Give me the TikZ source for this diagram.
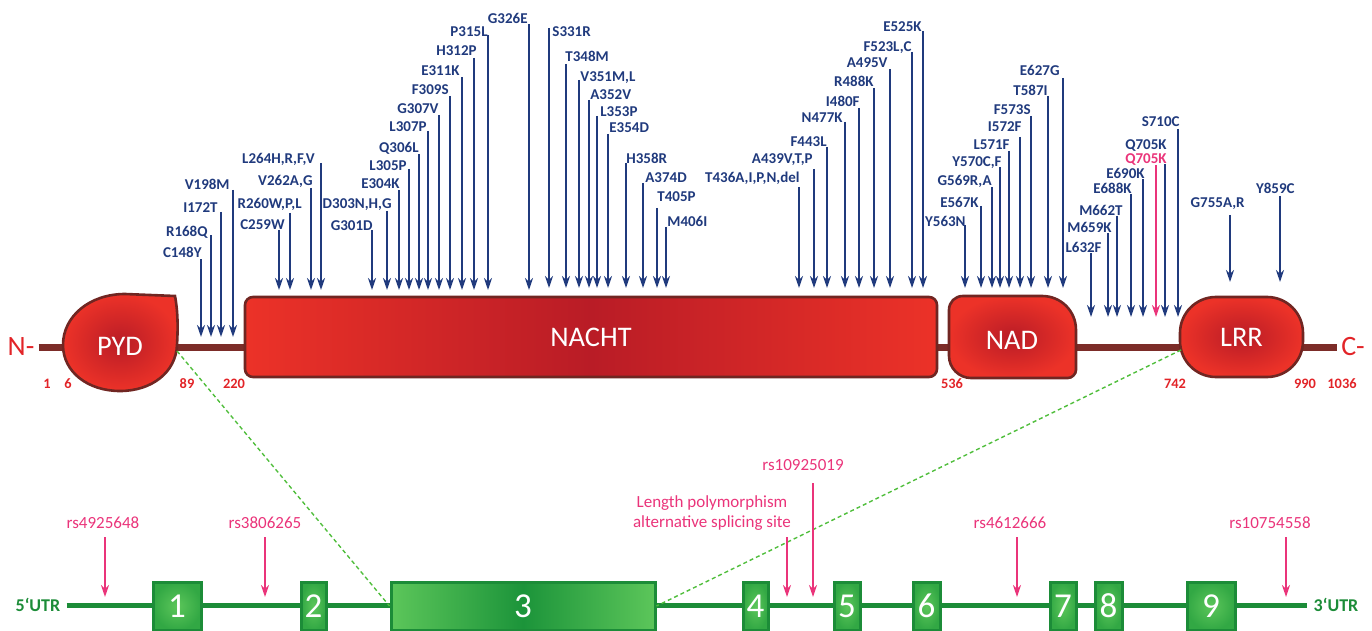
\documentclass[tikz,border=0pt]{standalone}
\usepackage{fontspec}
\setmainfont{Carlito}
\usetikzlibrary{arrows.meta}

\definecolor{mutblue}{RGB}{32,58,125}
\definecolor{snppink}{RGB}{234,52,122}
\definecolor{posred}{RGB}{226,36,40}
\definecolor{domred}{RGB}{236,50,40}
\definecolor{domdark}{RGB}{185,28,38}
\definecolor{domedge}{RGB}{112,38,34}
\definecolor{linkbrown}{RGB}{124,44,40}
\definecolor{genegreen}{RGB}{28,140,56}
\definecolor{exonlight}{RGB}{92,198,90}
\definecolor{exonmid}{RGB}{50,168,68}
\definecolor{exondark}{RGB}{28,148,58}
\definecolor{cutgreen}{RGB}{80,190,60}

\tikzset{
  domshape/.style={draw=domedge, line width=1.3pt, inner color=domdark, outer color=domred},
  domlab/.style={text=white, font=\fontsize{14.2}{16}\selectfont},
  endlab/.style={text=posred, font=\fontsize{14}{16}\selectfont, inner sep=2pt},
  poslab/.style={text=posred, font=\bfseries\fontsize{7.2}{8}\selectfont},
  mutlab/.style={text=mutblue, font=\bfseries\fontsize{7.5}{8}\selectfont, inner sep=0pt},
  mutarrow/.style={draw=mutblue, line width=1pt, -{Stealth[length=6pt,width=4pt]}},
  snplab/.style={text=snppink, font=\fontsize{8.5}{10}\selectfont, align=center},
  snparrow/.style={draw=snppink, line width=1pt, -{Stealth[length=6pt,width=4pt]}},
  exon/.style={draw=genegreen, line width=1.5pt, inner color=exonlight, outer color=exonmid,
    minimum height=24pt, inner sep=0pt, text=white, font=\fontsize{17.5}{17.5}\selectfont},
  utrlab/.style={text=genegreen, font=\bfseries\fontsize{9}{10}\selectfont, inner sep=3pt},
  zoomline/.style={draw=cutgreen, line width=0.7pt, dash pattern=on 2pt off 1.5pt}
}

\begin{document}
\begin{tikzpicture}[x=1pt, y=-1pt, scale = 0.5]
\useasboundingbox (0,0) rectangle (1372,631);

% protein
\node[endlab] (nterm) at (21,347) {N-};
\node[endlab] (cterm) at (1353,347) {C-};
\draw[linkbrown, line width=3.5pt] (nterm.east) -- (cterm.west);

\draw[domshape] (175,296) .. controls (178,312) and (178,328) .. (177,345)
  .. controls (176,372) and (152,391) .. (120,391)
  .. controls (88,391) and (63,372) .. (63,345)
  .. controls (63,316) and (90,294) .. (125,294) -- cycle;
\node[domlab] (pyd) at (120,346) {PYD};

\node[domshape, domlab, rounded corners=4pt, minimum width=346pt, minimum height=40pt,
  left color=domred, right color=domred, middle color=domdark] (nacht) at (591,337) {NACHT};

\draw[domshape] (963,296) -- (1042,296) .. controls (1061,296) and (1076,311) .. (1076,330)
  -- (1076,370) .. controls (1076,374) and (1072,378) .. (1068,378)
  -- (971,378) .. controls (959,378) and (949,368) .. (949,356)
  -- (949,310) .. controls (949,302) and (955,296) .. (963,296) -- cycle;
\node[domlab] (nad) at (1012,340) {NAD};

\node[domshape, domlab, rounded corners=18pt, minimum width=61.5pt, minimum height=40pt] (lrr) at (1241.5,337) {LRR};

\foreach \x/\n in {47/1, 68/6, 187/89, 234/220, 952/536, 1175/742, 1305/990, 1342/1036}
  \node[poslab] (p\n) at (\x,384) {\n};

% mutations
\foreach \x/\ys/\ye/\lx/\ly/\side/\m [count=\i] in {
  201/259/337/202/257/east/C148Y, 211/235/337/208/236/east/R168Q,
  221/212/337/218/213/east/I172T, 233/190/337/230/190/east/V198M,
  279/230/290/285/229/east/C259W, 290/213/290/302/208/east/{R260W,P,L},
  311/188/290/313/185/east/{V262A,G}, 321/163/290/315/163/east/{L264H,R,F,V},
  372/230/290/373/230/east/G301D, 387/211/290/392/208/east/{D303N,H,G},
  399/190/290/400/189/east/E304K, 409/169/290/407/170/east/L305P,
  419/154/290/419/153/east/Q306L, 428/131/290/427/132/east/L307P,
  439/115/290/439/114/east/G307V, 450/96/290/449/95/east/F309S,
  462/77/290/460/76/east/E311K, 474/58/290/477/56/east/H312P,
  488/35/290/488/37/east/P315L, 529/24/290/528/24/east/G326E,
  549/28/288/552/37/west/S331R, 566/64/288/565/62/west/T348M,
  579/80/288/580/82/west/{V351M,L}, 589/100/288/590/100/west/A352V,
  597/116/288/600/117/west/L353P, 608/134/288/609/133/west/E354D,
  626/163/288/626/163/west/H358R, 643/183/288/645/183/west/A374D,
  657/208/288/657/202/west/T405P, 666/227/288/667/227/west/M406I,
  799/187/288/800/183/east/{T436A,I,P,N,del}, 814/169/288/813/163/east/{A439V,T,P},
  827/147/288/827/147/east/F443L, 845/122/288/843/123/east/N477K,
  859/108/288/860/107/east/I480F, 874/88/288/874/87/east/R488K,
  890/69/288/888/68/east/A495V, 912/52/288/912/52/east/{F523L,C},
  923/31/288/922/32/east/E525K,
  965/225/288/966/227/east/Y563N, 981/206/288/979/207/east/E567K,
  992/187/288/992/185/east/{G569R,A}, 1000/167/288/1002/167/east/{Y570C,F},
  1009/151/288/1010/150/east/L571F, 1020/137/288/1022/132/east/I572F,
  1031/116/288/1031/115/east/F573S, 1048/96/288/1048/96/east/T587I,
  1063/78/288/1060/76/east/E627G,
  1091/253/317/1102/252/east/L632F, 1108/233/317/1112/233/east/M659K,
  1117/216/317/1123/215/east/M662T, 1131/194/317/1132/193/east/E688K,
  1143/179/317/1145/178/east/E690K, 1165/164/317/1167/149/east/Q705K,
  1178/129/317/1180/127/east/S710C,
  1230/215/282/1245/207/east/{G755A,R}, 1280/196/282/1295/193/east/Y859C}{
  \coordinate (ms\i) at (\x,\ys);
  \coordinate (mt\i) at (\x,\ye);
  \node[mutlab, anchor=base \side] (ml\i) at (\lx,\ly) {\m};
  \draw[mutarrow] (ms\i) -- (mt\i);
}
\coordinate (qs) at (1156,165);
\coordinate (qt) at (1156,317);
\node[mutlab, text=snppink, anchor=base east] (qlab) at (1167,163) {Q705K};
\draw[mutarrow, draw=snppink] (qs) -- (qt);

% gene
\node[utrlab] (utr5) at (38,605) {5`UTR};
\node[utrlab] (utr3) at (1336,605) {3`UTR};
\draw[genegreen, line width=2.5pt] (utr5.east) -- (utr3.west);

\foreach \n/\x/\w in {1/177/24, 2/313.5/12.5, 4/755.5/12.5, 5/847/13, 6/926.5/13.5,
  7/1063/13, 8/1108.5/13.5, 9/1211/24}
  \node[exon, minimum width=\w pt] (ex\n) at (\x,606) {\n};
\node[exon, minimum width=132pt, left color=exonlight, right color=exonlight,
  middle color=exondark] (ex3) at (523,606) {3};

\coordinate (pydcut) at (177,351);
\coordinate (lrrcut) at (1181,350);
\draw[zoomline] (pydcut) -- (ex3.west);
\draw[zoomline] (lrrcut) -- (ex3.east);

% SNPs
\foreach \x/\tx/\s [count=\i] in {105/103/rs4925648, 265/265/rs3806265,
  1017/1010/rs4612666, 1286/1270/rs10754558}{
  \node[snplab] (snp\i) at (\tx,523) {\s};
  \coordinate (ss\i) at (\x,537);
  \coordinate (st\i) at (\x,597);
  \draw[snparrow] (ss\i) -- (st\i);
}
\node[snplab] (snp5) at (803,465) {rs10925019};
\coordinate (ss5) at (813,483);
\coordinate (st5) at (813,597);
\draw[snparrow] (ss5) -- (st5);
\node[snplab] (lenpoly) at (712,513) {Length polymorphism\\alternative splicing site};
\coordinate (ss6) at (787,537);
\coordinate (st6) at (787,597);
\draw[snparrow] (ss6) -- (st6);

\end{tikzpicture}
\end{document}
